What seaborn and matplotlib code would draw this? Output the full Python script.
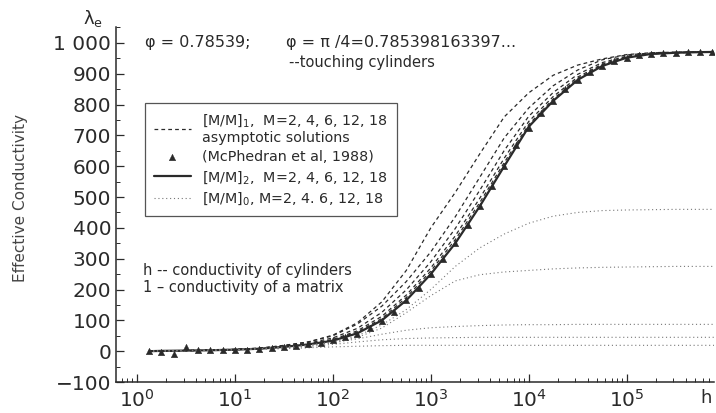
import numpy as np
import pandas as pd
import seaborn as sns
import matplotlib.pyplot as plt
from matplotlib.ticker import MultipleLocator, FixedLocator, LogLocator, NullFormatter, FuncFormatter

# log10(h) grid used for the curves
log_h = [0.125, 0.25, 0.5, 0.75, 1.0, 1.25, 1.5, 1.75, 2.0, 2.25, 2.5, 2.75, 3.0,
         3.25, 3.5, 3.75, 4.0, 4.25, 4.5, 4.75, 5.0, 5.25, 5.5, 5.75, 6.0]

# [M/M]_1 dashed curves, M = 2, 4, 6, 12, 18
mm1_M2 = [0, 1, 2, 4, 6, 10, 18, 30, 52, 92, 160, 262, 400, 515, 640, 760, 838, 895, 928, 948, 962, 968, 970, 971, 971]
mm1_M4 = [0, 1, 2, 3, 6, 9, 19, 30, 50, 88, 146, 226, 322, 436, 564, 692, 789, 861, 912, 945, 961, 967, 969, 970, 971]
mm1_M6 = [0, 1, 2, 3, 5, 9, 17, 26, 43, 74, 126, 199, 290, 398, 522, 651, 762, 839, 898, 936, 957, 966, 969, 970, 971]
mm1_M12 = [0, 1, 2, 3, 5, 8, 15, 24, 38, 66, 113, 182, 270, 374, 496, 626, 745, 826, 889, 931, 955, 965, 968, 970, 971]
mm1_M18 = [0, 1, 2, 3, 5, 8, 14, 23, 36, 62, 106, 174, 260, 362, 482, 612, 735, 818, 884, 928, 953, 964, 968, 970, 971]

# [M/M]_2 solid curve (all M coincide)
mm2 = [0, 1, 2, 3, 5, 8, 14, 22, 34, 58, 100, 165, 250, 350, 470, 600, 728, 812, 880, 925, 952, 964, 968, 970, 971]

# [M/M]_0 dotted curves
mm0_a = [0, 1, 2, 3, 5, 8, 13, 20, 30, 50, 85, 135, 200, 275, 335, 380, 415, 438, 450, 456, 458, 459, 460, 460, 460]
mm0_b = [0, 1, 2, 3, 5, 8, 13, 19, 28, 45, 75, 125, 180, 228, 248, 257, 262, 267, 270, 272, 273, 274, 275, 275, 275]
mm0_c = [0, 1, 2, 3, 5, 8, 12, 18, 27, 40, 55, 68, 76, 80, 83, 85, 86, 86, 87, 87, 87, 87, 87, 87, 87]
mm0_d = [0, 1, 2, 3, 5, 7, 10, 15, 22, 30, 37, 41, 43, 44, 45, 45, 45, 45, 45, 45, 45, 45, 45, 45, 45]
mm0_e = [0, 1, 2, 3, 5, 7, 8, 11, 14, 16, 18, 19, 19, 19, 19, 19, 19, 19, 19, 19, 19, 19, 19, 19, 19]

# McPhedran et al. (1988) points, at log10(h) = k/8
tri_k = list(range(1, 48))
tri_val = [0, -2, -10, 15, 3, 3, 3, 4, 5, 7, 10, 13, 17, 22, 28, 35, 45, 57, 75, 98,
           128, 165, 205, 250, 298, 350, 408, 470, 535, 600, 668, 725, 772, 812, 850,
           880, 906, 925, 940, 952, 960, 964, 967, 968, 969, 970, 971]

x_ticks = [1, 10, 100, 1000, 10000, 100000]

sns.set_theme(style="ticks")
plt.rcParams['font.family'] = ['DejaVu Sans']
plt.rcParams['mathtext.default'] = 'regular'

h = 10 ** np.array(log_h)
h_tri = 10 ** (np.array(tri_k) / 8.0)

fig = plt.figure(figsize=(7.16, 4.13), dpi=100)
ax = fig.add_axes([0.162, 0.075, 0.835, 0.86])

ink = '#2a2a2a'
dash_curves = [mm1_M2, mm1_M4, mm1_M6, mm1_M12, mm1_M18]
for i, vals in enumerate(dash_curves):
    sns.lineplot(x=h, y=vals, ax=ax, color=ink, lw=0.9, linestyle=(0, (3, 2.5)),
                 label='[M/M]$_1$,  M=2, 4, 6, 12, 18\nasymptotic solutions' if i == 0 else None)

sns.scatterplot(x=h_tri, y=tri_val, ax=ax, marker='^', color=ink, s=22,
                edgecolor=ink, linewidth=0.3, label='(McPhedran et al, 1988)', zorder=4)

sns.lineplot(x=h, y=mm2, ax=ax, color=ink, lw=1.6, label='[M/M]$_2$,  M=2, 4, 6, 12, 18')

dot_curves = [mm0_a, mm0_b, mm0_c, mm0_d, mm0_e]
for i, vals in enumerate(dot_curves):
    sns.lineplot(x=h, y=vals, ax=ax, color='#777777', lw=0.8, linestyle=(0, (1, 2.5)),
                 label='[M/M]$_0$, M=2, 4. 6, 12, 18' if i == 0 else None)

ax.set_xscale('log')
ax.set_xlim(10 ** -0.214, 10 ** 5.89)
ax.set_ylim(-100, 1052)

ax.yaxis.set_major_locator(MultipleLocator(100))
ax.yaxis.set_minor_locator(MultipleLocator(50))
ax.yaxis.set_major_formatter(FuncFormatter(lambda v, p: '1 000' if v == 1000 else f'{v:.0f}'.replace('-', '\u2212')))
ax.xaxis.set_major_locator(FixedLocator(x_ticks))
ax.xaxis.set_major_formatter(FuncFormatter(lambda v, p: f'$10^{{{int(round(np.log10(v)))}}}$'))
ax.xaxis.set_minor_locator(LogLocator(base=10, subs=np.arange(2, 10)))
ax.xaxis.set_minor_formatter(NullFormatter())

ax.tick_params(which='major', direction='in', length=6, width=0.9, labelsize=14.5, colors=ink)
ax.tick_params(which='minor', direction='in', length=3, width=0.7, colors=ink)
ax.tick_params(axis='x', pad=5)

for side in ['top', 'right']:
    ax.spines[side].set_visible(False)
for side in ['left', 'bottom']:
    ax.spines[side].set_color(ink)
    ax.spines[side].set_linewidth(1.1)

ax.set_xlabel('')
ax.set_ylabel('')
fig.text(0.028, 0.52, 'Effective Conductivity', rotation=90, ha='center', va='center',
         fontsize=11, color='#444444')
fig.text(0.13, 0.955, '$\\lambda_e$', ha='center', va='center', fontsize=13, color=ink)
fig.text(0.994, 0.015, 'h', ha='right', va='bottom', fontsize=13, color=ink)

ax.text(0.048, 0.955, '\u03c6 = 0.78539;', transform=ax.transAxes, fontsize=11.5, color=ink, va='center')
ax.text(0.285, 0.955, '\u03c6 = \u03c0 /4=0.785398163397...', transform=ax.transAxes,
        fontsize=11.5, color=ink, va='center')
ax.text(0.29, 0.90, '--touching cylinders', transform=ax.transAxes, fontsize=10.5, color=ink, va='center')

ax.text(0.045, 0.315, 'h -- conductivity of cylinders', transform=ax.transAxes, fontsize=10.5,
        color=ink, va='center')
ax.text(0.045, 0.265, '1 \u2013 conductivity of a matrix', transform=ax.transAxes, fontsize=10.5,
        color=ink, va='center')

leg = ax.legend(loc='upper left', bbox_to_anchor=(0.037, 0.805), frameon=True, fancybox=False,
                fontsize=10.3, handlelength=2.6, labelspacing=0.35, borderpad=0.6,
                labelcolor=ink)
leg.get_frame().set_edgecolor(ink)
leg.get_frame().set_linewidth(0.9)

fig.savefig('out.png', dpi=100)
